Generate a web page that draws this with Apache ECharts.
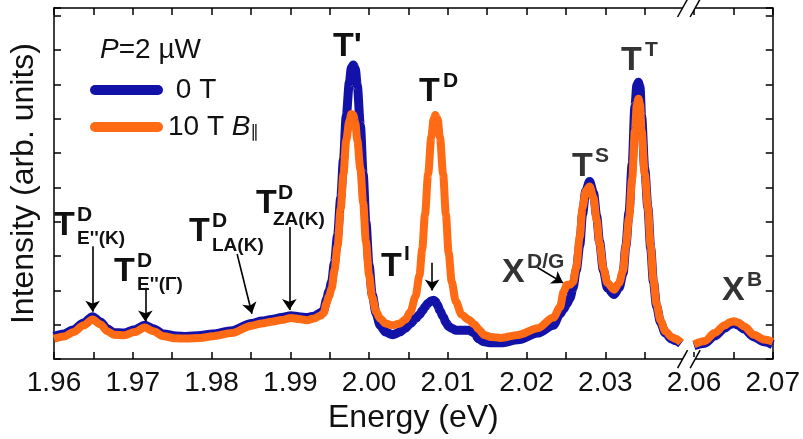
<!DOCTYPE html>
<html><head><meta charset="utf-8">
<script src="https://cdn.jsdelivr.net/npm/echarts@6/dist/echarts.min.js"></script>
<style>html,body{margin:0;padding:0;background:#fff}#c{width:803px;height:439px}</style>
</head><body><div id="c"></div>
<script>
// ---- data (energy in eV, intensity in arb. units) ----
const energy = [1.96,1.96125,1.9625,1.96375,1.9649,1.9659,1.96675,1.9676,1.9689,1.97025,1.9715,1.9726,1.9739,1.9755,1.97675,1.9786,1.9801,1.9826,1.9851,1.9864,1.9876,1.9889,1.9901,1.9911,1.9921,1.993,1.9939,1.99425,1.9946,1.9949,1.99525,1.9956,1.996,1.9964,1.99675,1.9971,1.9975,1.99775,1.998,1.99825,1.9985,1.9989,1.99925,1.9996,2.0,2.0004,2.0009,2.0014,2.0021,2.003,2.0039,2.0046,2.00525,2.0059,2.0064,2.00675,2.0071,2.0075,2.0079,2.0082,2.0084,2.0087,2.009,2.0094,2.00975,2.0101,2.0105,2.011,2.01175,2.0126,2.0134,2.0139,2.0146,2.0155,2.01675,2.0189,2.0214,2.0234,2.02425,2.0247,2.0251,2.0255,2.0259,2.0263,2.02675,2.0271,2.0275,2.028,2.0285,2.0289,2.02925,2.02975,2.03025,2.0311,2.03175,2.03225,2.0326,2.033,2.0334,2.03375,2.034,2.0342,2.0344,2.0346,2.035,2.0354,2.03575,2.0361,2.0365,2.037,2.0376,2.0384,2.0389,2.0396,
  2.06,2.0614,2.0626,2.0639,2.0646,2.0651,2.0656,2.0664,2.0676,2.0689,2.07];
const int10T = [21,23.5,28,35,41,36,29,25.3,24.7,28,32.7,29,23.7,21.5,21.3,22,23.7,27,34.7,37,38.7,40.5,42.7,41.5,40.3,42,45.3,48,58,65,73,92,117,156,192,227,247,254,253,245,227,197,162,122,87,64,49,42,37,35,37,41,49,65,87,114,150,192,230,249,253,249,230,192,150,110,80,60,46,41,36,31,25,23,22,25,32,43,54,70,77,77,80,95,127,157,174,179,167,144,120,94,79,72,79,92,117,146,187,237,264,270,264,237,192,157,117,82,57,40,29,23,21,17,
  15.3,18.7,27,35,38.5,39.3,38,33.7,25.3,20.3,18];
const int0T = [23.5,26,30.5,37.5,44,38.5,31.5,27.5,27,30.5,35,31.5,26,24,23.5,24.5,26,29.5,37,39.5,41,43,45,44,43,44.5,48,51,62,70,80,100,128,167,207,252,287,302,305,301,284,242,192,142,97,67,47,35,28,25.3,28,32,37,42,46,50,54,58,60.5,61,60,56,50,44,38,34,32,30,30,30,27,21,18,17,17,20,27,35,47,52,57,63,74,92,118,150,174,184,172,148,122,92,74,67,74,89,117,152,202,262,284,287,282,252,197,157,115,80,55,38,27,21,19,16,
  14,16.5,24,32,36,37,35,31,23,18,15];
const seriesNames = ['0 T', '10 T B\u2225'];
const tickEnergies = [1.96,1.965,1.97,1.975,1.98,1.985,1.99,1.995,2.00,2.005,2.01,2.015,2.02,2.025,2.03,2.035,2.06,2.065,2.07];
const tickLabels = ['1.96','1.97','1.98','1.99','2.00','2.01','2.02','2.03','2.06','2.07'];
// arrows: [E_from, I_from, E_to, I_to]
const arrows = [
  [1.9649,117,1.9649,49],
  [1.9716,74,1.9716,39],
  [1.98325,109,1.98513,47],
  [1.98988,137,1.98988,51],
  [2.0080,100,2.0080,71],
  [2.02138,95,2.02463,79]
];

// ---- axis break: energies above the gap are shifted left ----
const SHIFT = 0.01875, GAP_AT = 2.05;
const tx = e => e > GAP_AT ? +(e - SHIFT).toFixed(6) : e;
const inv = v => v > 2.0405 ? v + SHIFT : v;
function build(vals){
  const out = [];
  for (let i = 0; i < energy.length; i++){
    if (i > 0 && energy[i-1] < GAP_AT && energy[i] > GAP_AT) out.push([2.0405, '-']);
    out.push([tx(energy[i]), vals[i]]);
  }
  return out;
}
const FONT = "'Liberation Sans', Arial, sans-serif";
const tickVals = tickEnergies.map(tx);
const labelVals = tickLabels.map(s => tx(parseFloat(s)));
const XMIN = 1.96, XMAX = tx(2.07);
const YMAX = 364, YINT = 35.6;

const chart = echarts.init(document.getElementById('c'), null, {renderer: 'canvas'});
const axisCommon = {
  type: 'value', min: XMIN, max: XMAX,
  axisLine: {show: true, onZero: false, lineStyle: {color: '#000', width: 1.5}},
  axisTick: {show: true, inside: true, length: 7, customValues: tickVals, lineStyle: {color: '#000', width: 1.5}},
  splitLine: {show: false}
};
chart.setOption({
  animation: false,
  grid: {left: 46, right: 27, top: 8, bottom: 67, containLabel: false},
  xAxis: [
    Object.assign({}, axisCommon, {
      position: 'bottom',
      name: 'Energy (eV)', nameLocation: 'middle', nameGap: 38,
      nameTextStyle: {fontSize: 32, fontFamily: FONT, color: '#111'},
      axisLabel: {show: true, customValues: labelVals, margin: 10, fontSize: 28, fontFamily: FONT, color: '#111',
        formatter: v => inv(v).toFixed(2)}
    }),
    Object.assign({}, axisCommon, {position: 'top', axisLabel: {show: false}})
  ],
  yAxis: [
    {type: 'value', min: 0, max: YMAX, interval: YINT, position: 'left',
     name: 'Intensity (arb. units)', nameLocation: 'middle', nameGap: 14,
     nameTextStyle: {fontSize: 32, fontFamily: FONT, color: '#111'},
     axisLine: {show: true, lineStyle: {color: '#000', width: 1.5}},
     axisTick: {show: true, inside: true, length: 7, lineStyle: {color: '#000', width: 1.5}},
     axisLabel: {show: false}, splitLine: {show: false}},
    {type: 'value', min: 0, max: YMAX, interval: YINT, position: 'right',
     axisLine: {show: true, lineStyle: {color: '#000', width: 1.5}},
     axisTick: {show: true, inside: true, length: 7, lineStyle: {color: '#000', width: 1.5}},
     axisLabel: {show: false}, splitLine: {show: false}}
  ],
  legend: {
    data: seriesNames, orient: 'vertical', left: 90, top: 76, padding: 0,
    itemWidth: 73, itemHeight: 10, itemGap: 9,
    icon: 'path://M5,0 H68 A5,5 0 0 1 68,10 H5 A5,5 0 0 1 5,0 Z',
    textStyle: {fontSize: 28, fontFamily: FONT, color: '#111',
      rich: {i: {fontSize: 28, fontStyle: 'italic', fontFamily: FONT, color: '#111'},
             s: {fontSize: 17, fontFamily: "'DejaVu Sans', sans-serif", color: '#111', verticalAlign: 'bottom', lineHeight: 14}}},
    formatter: n => n === '0 T' ? ' 0 T' : '10 T {i|B}{s|\u2225}'
  },
  series: [
    {name: seriesNames[0], type: 'line', data: build(int0T), showSymbol: false, symbol: 'none',
     smooth: 0.3, smoothMonotone: 'x', connectNulls: false,
     lineStyle: {color: '#1212A8', width: 9, join: 'round'}, itemStyle: {color: '#1212A8'}, z: 2},
    {name: seriesNames[1], type: 'line', data: build(int10T), showSymbol: false, symbol: 'none',
     smooth: 0.3, smoothMonotone: 'x', connectNulls: false,
     lineStyle: {color: '#FF6A14', width: 8, join: 'round'}, itemStyle: {color: '#FF6A14'}, z: 3},
    {name: 'arrows', type: 'lines', coordinateSystem: 'cartesian2d', z: 5,
     symbol: ['none', 'arrow'], symbolSize: 11,
     lineStyle: {color: '#000', width: 1.6, opacity: 1},
     data: arrows.map(a => ({coords: [[tx(a[0]), a[1]], [tx(a[2]), a[3]]]}))}
  ]
});

// ---- annotations and axis-break marks ----
const g = [];
function txt(x, y, s, size, color){
  g.push({type: 'text', x: x, y: y + 3, z: 20, silent: true,
    style: {text: s, fontSize: size, fontWeight: 'bold', fontFamily: FONT, fill: color, textVerticalAlign: 'top'}});
}
const K = '#111', G = '#333';
txt(333, 27, "T'", 34, K);
txt(419, 72, 'T', 34, K); txt(443, 68, 'D', 21, K);
txt(621, 41, 'T', 34, G); txt(645, 37, 'T', 21, G);
txt(572, 147, 'T', 34, G); txt(595, 143, 'S', 21, G);
txt(381, 247, 'T', 34, K); txt(404, 241, 'I', 21, K);
txt(502, 253, 'X', 34, G); txt(527, 249, 'D/G', 21, G);
txt(722, 271, 'X', 34, G); txt(747, 267, 'B', 21, G);
txt(54, 206, 'T', 34, K); txt(77, 202, 'D', 21, K); txt(77, 226, "E''(K)", 19, K);
txt(114, 252, 'T', 34, K); txt(137, 248, 'D', 21, K); txt(137, 272, "E''(\u0393)", 19, K);
txt(189, 212, 'T', 34, K); txt(212, 208, 'D', 21, K); txt(212, 233, 'LA(K)', 19, K);
txt(256, 184, 'T', 34, K); txt(278, 180, 'D', 21, K); txt(273, 207, 'ZA(K)', 19, K);
g.push({type: 'text', x: 100, y: 36, z: 20, silent: true,
  style: {text: '{i|P}=2 \u00b5W', fontSize: 28, fontFamily: FONT, fill: '#111',
    rich: {i: {fontStyle: 'italic', fontSize: 28, fontFamily: FONT, fill: '#111'}}}});
const yB = chart.convertToPixel({yAxisIndex: 0}, 0);
const yT = chart.convertToPixel({yAxisIndex: 0}, YMAX);
const xa = chart.convertToPixel({xAxisIndex: 0}, 2.0398);
const xb = chart.convertToPixel({xAxisIndex: 0}, 2.0414);
[yB, yT].forEach(y => {
  g.push({type: 'rect', z: 30, silent: true, shape: {x: xa, y: y - 2, width: xb - xa, height: 4}, style: {fill: '#fff'}});
  [xa, xb].forEach(x => g.push({type: 'line', z: 31, silent: true,
    shape: {x1: x - 5, y1: y + 9, x2: x + 5, y2: y - 9}, style: {stroke: '#000', lineWidth: 1.5}}));
});
chart.setOption({graphic: g});
</script></body></html>
